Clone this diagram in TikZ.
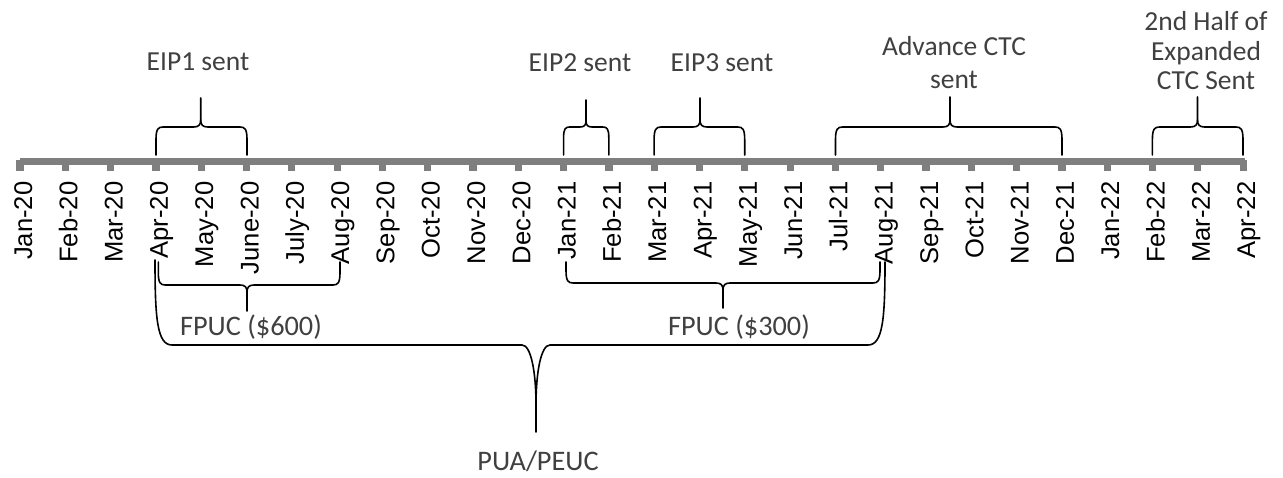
\documentclass[tikz,border=0pt]{standalone}
\usepackage{fontspec}
\setmainfont{Carlito}
\newfontfamily\axisfont{Liberation Sans}
\definecolor{axisgray}{HTML}{7F7F7F}
\definecolor{labelgray}{HTML}{404040}

% curly brace: x1, x2, tip x, arm end y, bar y, tip end y, bend size
\newcommand\curlybrace[7]{%
  \pgfmathsetmacro\sg{ifthenelse(#5>#4,1,-1)}%
  \draw[bracestroke] (#1,#4) -- (#1,{#5-\sg*1.8*#7})
    .. controls (#1,{#5-\sg*0.3*#7}) and ({#1+0.3*#7},#5) .. ({#1+#7},#5)
    -- ({#3-#7},#5)
    .. controls ({#3-0.3*#7},#5) and (#3,{#5+\sg*0.3*#7}) .. (#3,{#5+\sg*#7})
    -- (#3,#6);
  \draw[bracestroke] (#2,#4) -- (#2,{#5-\sg*1.8*#7})
    .. controls (#2,{#5-\sg*0.3*#7}) and ({#2-0.3*#7},#5) .. ({#2-#7},#5)
    -- ({#3+#7},#5)
    .. controls ({#3+0.3*#7},#5) and (#3,{#5+\sg*0.3*#7}) .. (#3,{#5+\sg*#7});
}

\begin{document}
\begin{tikzpicture}[x=1pt,y=-1pt,
  bracestroke/.style={draw=black,line width=1.6pt,line cap=round,line join=round},
  monthlabel/.style={font=\axisfont\fontsize{25.6}{30}\selectfont,text=black,
    rotate=90,inner sep=0pt,anchor=base east},
  eventlabel/.style={font=\fontsize{27.5}{33}\selectfont,text=labelgray,
    inner sep=0pt,anchor=base,align=center},
  periodlabel/.style={eventlabel,font=\fontsize{28.3}{33}\selectfont}]
\useasboundingbox (0,0) rectangle (1283,478);

% time axis with monthly ticks
\fill[axisgray] (20,158.3) rectangle (1245,165);
\foreach \m [count=\i from 0] in {Jan-20,Feb-20,Mar-20,Apr-20,May-20,June-20,
    July-20,Aug-20,Sep-20,Oct-20,Nov-20,Dec-20,Jan-21,Feb-21,Mar-21,Apr-21,
    May-21,Jun-21,Jul-21,Aug-21,Sep-21,Oct-21,Nov-21,Dec-21,Jan-22,Feb-22,
    Mar-22,Apr-22}{
  \pgfmathsetmacro\tx{20+45.3*\i}
  \coordinate (t\i) at (\tx,161.5);
  \fill[axisgray] ({\tx-3.6},160) rectangle ({\tx+3.6},170.7);
  \node[monthlabel] (m\i) at ({\tx+12},181.5) {\m};
}

% events above the axis
\curlybrace{156}{247}{200.7}{155}{127}{98}{7}
\curlybrace{563.6}{608.8}{586}{155}{127}{100}{6}
\curlybrace{654.1}{744.7}{700}{155}{127}{98}{7}
\curlybrace{835.5}{1062}{950}{155}{127}{97}{7}
\curlybrace{1152.4}{1243}{1197.5}{155}{127}{97}{7}

\node[eventlabel] (eip1) at (198,71) {EIP1 sent};
\node[eventlabel] (eip2) at (580,72) {EIP2 sent};
\node[eventlabel] (eip3) at (722,72) {EIP3 sent};
\node[eventlabel] (actc1) at (954,56) {Advance CTC};
\node[eventlabel] (actc2) at (954,89) {sent};
\node[eventlabel] (half1) at (1206,31) {2nd Half of};
\node[eventlabel] (half2) at (1206,61) {Expanded};
\node[eventlabel] (half3) at (1206,90) {CTC Sent};

% benefit periods below the axis
\curlybrace{158.3}{340}{247}{262}{285}{311}{7}
\curlybrace{566}{880}{723}{262}{283}{308}{7}

\draw[bracestroke] (155,260) .. controls (155,318) and (157,345) .. (172,345)
  -- (522,345) .. controls (531,345) and (536,372) .. (536,405) -- (536,432);
\draw[bracestroke] (885,262) .. controls (885,318) and (883,345) .. (868,345)
  -- (550,345) .. controls (541,345) and (536,372) .. (536,405);

\node[periodlabel] (fpuc600) at (251,336) {FPUC (\$600)};
\node[periodlabel] (fpuc300) at (739,336) {FPUC (\$300)};
\node[periodlabel] (pua) at (538,470) {PUA/PEUC};
\end{tikzpicture}
\end{document}
